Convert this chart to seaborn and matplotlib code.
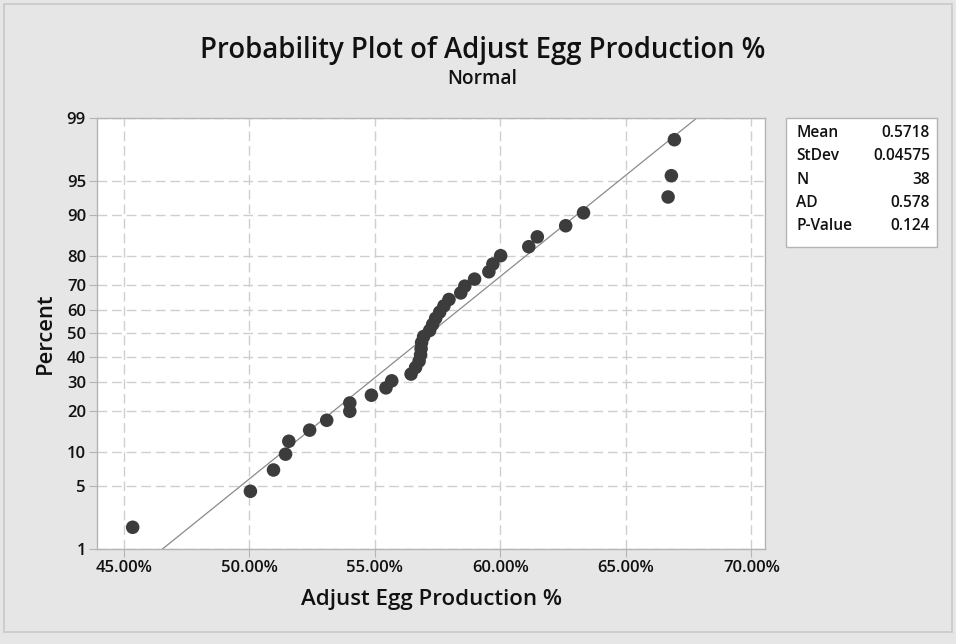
"""Normal probability plot of adjusted egg production (Minitab style)."""

from statistics import NormalDist

import matplotlib.pyplot as plt
import numpy as np
import pandas as pd
import seaborn as sns
from matplotlib.patches import Rectangle
from matplotlib.ticker import FixedLocator, PercentFormatter

egg_production = [
    0.4535, 0.5004, 0.5096, 0.5144, 0.5157, 0.5240, 0.5308, 0.5400,
    0.5400, 0.5486, 0.5544, 0.5567, 0.5644, 0.5662, 0.5676, 0.5682,
    0.5684, 0.5686, 0.5694, 0.5718, 0.5730, 0.5742, 0.5758, 0.5775,
    0.5795, 0.5842, 0.5858, 0.5897, 0.5954, 0.5970, 0.6001, 0.6113,
    0.6147, 0.6260, 0.6331, 0.6668, 0.6681, 0.6693,
]
percent_ticks = [1, 5, 10, 20, 30, 40, 50, 60, 70, 80, 90, 95, 99]
x_ticks = [0.45, 0.50, 0.55, 0.60, 0.65, 0.70]

stat_names = ["Mean", "StDev", "N", "AD", "P-Value"]
stat_values = ["0.5718", "0.04575", "38", "0.578", "0.124"]
fit_mean = 0.5718
fit_sd = 0.04575

FONT = "Open Sans"
GRID = "#cfcfcf"
FRAME = "#b4b4b4"
INK = "#111111"
WEIGHT = "semibold"

nd = NormalDist()
_ppf = np.vectorize(lambda p: nd.inv_cdf(min(max(p / 100.0, 1e-9), 1 - 1e-9)),
                    otypes=[float])
_cdf = np.vectorize(lambda z: nd.cdf(z) * 100.0, otypes=[float])

# Median-rank plotting positions
n = len(egg_production)
ranks = np.arange(1, n + 1)
df = pd.DataFrame({
    "value": egg_production,
    "percent": (ranks - 0.3) / (n + 0.4) * 100.0,
})
fit_pct = np.linspace(0.5, 99.5, 200)
fit_df = pd.DataFrame({"percent": fit_pct, "value": fit_mean + fit_sd * _ppf(fit_pct)})

sns.set_style("white")
plt.rcParams["font.family"] = [FONT, "DejaVu Sans"]

fig = plt.figure(figsize=(9.56, 6.44), dpi=100, facecolor="#e6e6e6")
fig.patches.append(Rectangle((0.004, 0.018), 0.992, 0.976, transform=fig.transFigure,
                             fill=False, edgecolor="#c8c8c8", linewidth=1.2))
ax = fig.add_axes([0.1015, 0.1475, 0.6987, 0.6693])
ax.set_facecolor("white")
ax.set_yscale("function", functions=(_ppf, _cdf))

sns.lineplot(data=fit_df, x="value", y="percent", ax=ax, color="#8a8a8a",
             linewidth=0.9, sort=False, zorder=2)
sns.scatterplot(data=df, x="value", y="percent", ax=ax, color="#3c3c3c",
                s=95, edgecolor="none", zorder=3)

ax.set_xlim(0.4393, 0.7054)
ax.set_ylim(1, 99)
ax.yaxis.set_major_locator(FixedLocator(percent_ticks))
ax.yaxis.set_minor_locator(FixedLocator([]))
ax.set_yticklabels([str(t) for t in percent_ticks])
ax.xaxis.set_major_locator(FixedLocator(x_ticks))
ax.xaxis.set_major_formatter(PercentFormatter(xmax=1, decimals=2))

ax.grid(True, color=GRID, linestyle=(0, (7, 3.5)), linewidth=1.0)
for side in ax.spines.values():
    side.set_color(FRAME)
    side.set_linewidth(1.0)
ax.tick_params(axis="both", length=6, color=FRAME, labelsize=12, pad=2,
               labelcolor=INK)
ax.tick_params(axis="both", bottom=True, left=True)
for lbl in ax.get_xticklabels() + ax.get_yticklabels():
    lbl.set_fontweight(WEIGHT)

ax.set_xlabel("Adjust Egg Production %", fontsize=16, labelpad=9, color=INK,
              fontweight=WEIGHT)
ax.set_ylabel("Percent", fontsize=15.8, labelpad=8, color=INK, fontweight=WEIGHT)

fig.text(0.5045, 0.922, "Probability Plot of Adjust Egg Production %", ha="center",
         va="center", fontsize=19.8, color=INK, fontweight=WEIGHT)
fig.text(0.5045, 0.877, "Normal", ha="center", va="center", fontsize=13.8,
         color=INK, fontweight=WEIGHT)

# Statistics box
fig.patches.append(Rectangle((786 / 956, 1 - 247 / 644), 151 / 956, 129 / 644,
                             transform=fig.transFigure, facecolor="white",
                             edgecolor=FRAME, linewidth=1.0))
for i, (name, val) in enumerate(zip(stat_names, stat_values)):
    y = 1 - (133 + i * 23.3) / 644
    fig.text(796 / 956, y, name, ha="left", va="center", fontsize=11.2, color=INK,
             fontweight=WEIGHT)
    fig.text(930 / 956, y, val, ha="right", va="center", fontsize=11.2, color=INK,
             fontweight=WEIGHT)

fig.savefig("out.png", dpi=100, facecolor=fig.get_facecolor())
